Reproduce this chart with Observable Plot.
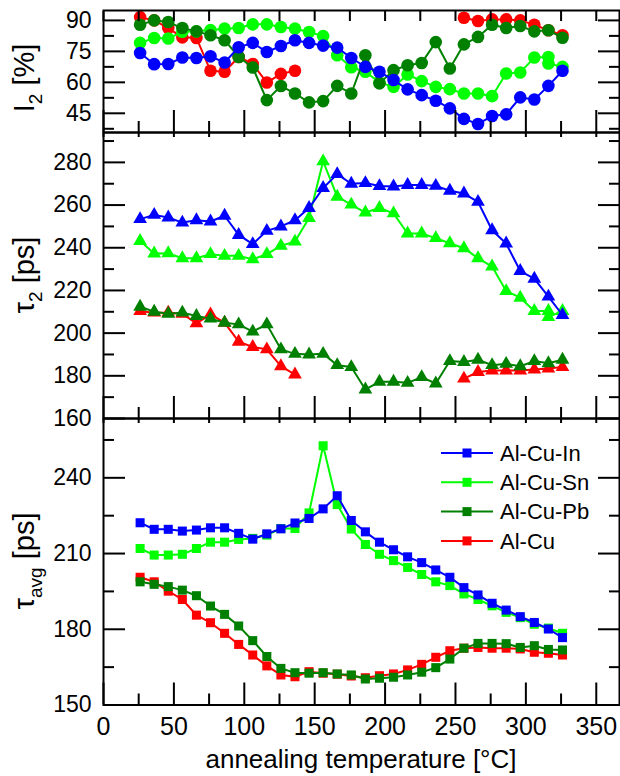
<!DOCTYPE html>
<html><head><meta charset="utf-8">
<script src="https://cdn.jsdelivr.net/npm/d3@7"></script>
<script src="https://cdn.jsdelivr.net/npm/@observablehq/plot@0.6"></script>
<style>
body{margin:0;background:#fff;}
#chart{position:relative;width:620px;height:776px;font-family:"Liberation Sans",Arial,sans-serif;}
#chart svg{position:absolute;left:0;top:0;background:transparent;overflow:visible;}
</style></head><body><div id="chart"></div>
<script>
// ---- data ----
const seriesNames = ["Al-Cu-In", "Al-Cu-Sn", "Al-Cu-Pb", "Al-Cu"];
const seriesColors = ["#0000ff", "#00ff00", "#008000", "#ff0000"];
const temps = [26,36,46,56,66,76,86,96,106,116,126,136,146,156,166,176,186,196,206,216,226,236,246,256,266,276,286,296,306,316,326];
const tempsSn = [26,36,46,56,66,76,86,96,106,116,126,136,146,156,166,176,186,196,206,216,226,236,246,256,266,276,286,296,306,316,316,326];

const I2_In = [74.2,68.8,68.9,72.0,71.8,72.6,69.6,77.0,79.1,74.7,77.6,80.4,79.1,77.8,76.8,71.8,67.5,65.1,61.1,56.6,53.8,51.1,47.4,42.3,39.8,43.7,44.5,52.7,51.7,58.3,65.6];
const I2_Sn = [79.1,81.5,81.2,84.5,84.7,85.3,86.0,86.3,88.1,88.1,86.8,86.0,84.4,82.4,73.1,67.3,65.1,60.0,57.8,63.8,60.6,57.8,56.7,54.6,54.6,53.3,64.3,64.8,72.0,72.3,69.1,67.5];
const I2_Pb = [87.9,90.0,89.2,86.3,84.7,82.8,80.4,72.3,67.2,51.4,58.2,54.6,50.3,50.9,58.3,54.6,73.1,59.5,65.9,68.3,69.4,79.5,66.7,78.4,82.0,87.9,86.3,87.3,84.7,85.2,81.6];
const I2_Cu = [91.6,90.0,86.3,81.8,81.5,65.6,65.1,72.3,68.9,59.9,64.1,65.6,null,null,null,null,null,null,null,null,null,null,null,91.3,89.7,90.5,90.5,90.0,87.9,85.2,82.8];

const tau2_In = [253.4,255.4,254.2,251.8,252.9,252.3,255.0,246.0,241.7,247.9,250.0,252.9,258.6,268.0,274.5,270.0,270.3,268.9,268.7,269.4,269.4,269.0,266.7,265.4,261.5,248.2,242.0,229.1,225.5,217.1,208.5];
const tau2_Sn = [243.2,237.3,237.4,235.1,235.1,237.0,236.2,236.2,234.6,237.0,240.9,242.9,253.9,280.5,263.9,260.2,256.5,258.6,256.1,246.7,246.7,244.5,242.1,239.8,235.1,231.2,219.7,216.6,210.4,210.4,207.5,210.4];
const tau2_Pb = [212.4,210.0,209.1,209.6,208.0,206.8,204.9,204.1,200.7,204.1,192.4,190.3,190.0,190.3,185.0,184.1,173.6,177.2,177.2,176.7,179.4,176.4,186.9,186.5,187.5,185.0,185.6,184.5,186.9,185.9,187.5];
const tau2_Cu = [210.3,209.6,209.6,209.1,204.6,208.8,204.9,196.0,193.5,192.4,184.5,180.6,null,null,null,null,null,null,null,null,null,null,null,178.7,181.8,182.5,182.5,182.5,183.0,183.4,184.1];

const tavg_In = [222.2,219.6,219.6,218.9,219.3,220.2,220.2,218.0,215.7,217.8,219.8,222.1,223.9,227.7,232.9,223.1,218.6,214.5,211.5,208.7,206.4,203.5,200.6,196.5,193.6,190.3,187.6,185.0,182.7,180.1,176.7];
const tavg_Sn = [212.0,209.4,209.4,209.7,212.0,214.5,214.5,215.6,216.0,217.3,219.9,219.9,226.1,252.7,229.4,219.7,213.6,209.7,207.2,204.5,201.7,198.8,197.3,194.0,191.8,189.3,186.7,184.6,182.0,180.4,180.4,178.4];
const tavg_Pb = [198.8,197.8,196.9,195.5,193.3,189.2,185.9,181.3,175.5,169.2,164.5,162.8,162.6,162.8,162.3,161.9,160.3,160.6,161.0,161.9,163.0,164.8,168.2,172.5,174.4,174.4,174.3,172.8,173.5,172.0,171.8];
const tavg_Cu = [200.6,198.8,195.1,191.8,185.6,182.6,178.4,174.0,169.8,165.5,161.9,161.2,163.2,162.6,162.2,161.5,160.8,161.6,162.3,163.9,166.1,168.9,171.5,172.5,172.8,172.5,172.5,172.2,170.9,170.5,169.8];

const xMajor = [0,50,100,150,200,250,300,350];
const xMinor = [25,75,125,175,225,275,325];
const i2Major = [45,60,75,90], i2Minor = [37.5,52.5,67.5,82.5];
const tau2Major = [160,180,200,220,240,260,280], tau2Minor = [170,190,210,230,250,270,290];
const tavgMajor = [150,180,210,240], tavgMinor = [165,195,225,255];

// ---- layout ----
const W = 620, H = 776, FONT = '"Liberation Sans", Arial, sans-serif';
const xDomain = [0, 366.5];
const drawOrder = [3, 1, 2, 0]; // Al-Cu under, Al-Cu-In on top

const panels = [
  {vals: [I2_In, I2_Sn, I2_Pb, I2_Cu], domain: [35.7, 94.8], top: 10, bottom: 132, major: i2Major, minor: i2Minor, symbol: "circle", r: 6.3, topTick: 10},
  {vals: [tau2_In, tau2_Sn, tau2_Pb, tau2_Cu], domain: [160, 294], top: 132, bottom: 418, major: tau2Major, minor: tau2Minor, symbol: "triangle", r: 5.1, topTick: 4},
  {vals: [tavg_In, tavg_Sn, tavg_Pb, tavg_Cu], domain: [150, 263.5], top: 418, bottom: 704.5, major: tavgMajor, minor: tavgMinor, symbol: "square", r: 5.1, topTick: 4, xLabels: true}
];

const chart = document.getElementById("chart");
const svgs = [];

for (const p of panels) {
  const marks = [];
  for (const si of drawOrder) {
    const xs = si === 1 ? tempsSn : temps;
    const rows = xs.map((T, i) => ({T, v: p.vals[si][i] == null ? NaN : p.vals[si][i]}));
    marks.push(Plot.line(rows, {x: "T", y: "v", stroke: seriesColors[si], strokeWidth: 2}));
    marks.push(Plot.dot(rows.filter(d => !isNaN(d.v)), {x: "T", y: "v", fill: seriesColors[si], stroke: "none", r: p.r, symbol: p.symbol}));
  }
  const tickOpts = {fill: "none", label: null, strokeWidth: 2};
  marks.push(
    Plot.frame({stroke: "black", strokeWidth: 2}),
    Plot.axisY(p.major, {anchor: "left", tickSize: -22, ...tickOpts}),
    Plot.axisY(p.minor, {anchor: "left", tickSize: -11, ...tickOpts}),
    Plot.axisY(p.major, {anchor: "right", tickSize: -22, ...tickOpts}),
    Plot.axisY(p.minor, {anchor: "right", tickSize: -11, ...tickOpts}),
    Plot.axisX(xMajor, {anchor: "bottom", tickSize: -22, ...tickOpts}),
    Plot.axisX(xMinor, {anchor: "bottom", tickSize: -11, ...tickOpts}),
    Plot.axisX(xMajor.concat(xMinor), {anchor: "top", tickSize: -p.topTick, ...tickOpts}),
    Plot.axisY(p.major, {anchor: "left", tickSize: 0, tickPadding: 12, fontSize: 23, label: null, stroke: "none"})
  );
  if (p.xLabels) {
    marks.push(Plot.axisX(xMajor, {anchor: "bottom", tickSize: 0, tickPadding: 12, fontSize: 25, label: null, stroke: "none"}));
  }
  const svg = Plot.plot({
    width: W, height: H,
    marginLeft: 103, marginRight: 1, marginTop: p.top, marginBottom: H - p.bottom,
    x: {domain: xDomain},
    y: {domain: p.domain},
    style: {background: "transparent", overflow: "visible", fontFamily: FONT, color: "black"},
    marks
  });
  chart.appendChild(svg);
  svgs.push(svg);
}

// ---- axis titles ----
function yTitle(svg, cy, main, sub, rest) {
  const t = d3.select(svg).append("text")
    .attr("transform", `translate(34,${cy}) rotate(-90)`)
    .attr("text-anchor", "middle")
    .attr("font-family", FONT).attr("font-size", 29).attr("fill", "black");
  t.append("tspan").text(main);
  t.append("tspan").attr("font-size", 19).attr("dy", 8).text(sub);
  t.append("tspan").attr("dy", -8).text(rest);
}
yTitle(svgs[0], 78, "I", "2", " [%]");
yTitle(svgs[1], 275, "\u03c4", "2", " [ps]");
yTitle(svgs[2], 561, "\u03c4", "avg", " [ps]");

d3.select(svgs[2]).append("text")
  .attr("x", 361).attr("y", 768).attr("text-anchor", "middle")
  .attr("font-family", FONT).attr("font-size", 26).attr("fill", "black")
  .text("annealing temperature [\u00b0C]");

// ---- legend ----
const lg = d3.select(svgs[2]).append("g");
seriesNames.forEach((name, i) => {
  const y = 453 + i * 29.3;
  lg.append("line").attr("x1", 441).attr("x2", 493).attr("y1", y).attr("y2", y)
    .attr("stroke", seriesColors[i]).attr("stroke-width", 2);
  lg.append("rect").attr("x", 467 - 4.5).attr("y", y - 4.5).attr("width", 9).attr("height", 9)
    .attr("fill", seriesColors[i]);
  lg.append("text").attr("x", 500).attr("y", y).attr("dy", "0.35em")
    .attr("text-anchor", "start")
    .attr("font-family", FONT).attr("font-size", 22).attr("fill", "black").text(name);
});
</script></body></html>
